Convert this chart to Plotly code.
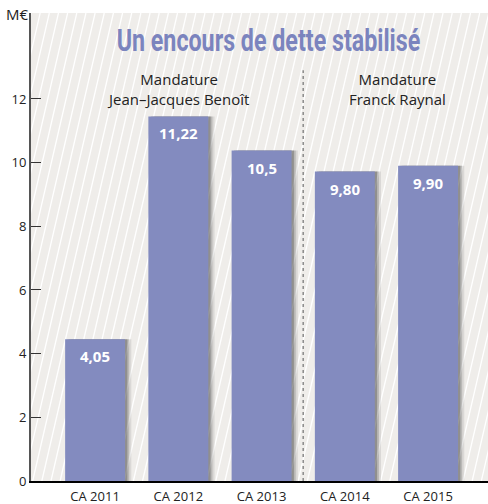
import plotly.graph_objects as go

# Dette (M€) par compte administratif
categories = ["CA 2011", "CA 2012", "CA 2013", "CA 2014", "CA 2015"]
bar_heights = [4.45, 11.45, 10.38, 9.72, 9.9]   # hauteur des barres
value_labels = ["4,05", "11,22", "10,5", "9,80", "9,90"]
mandates = ["Mandature<br>Jean–Jacques Benoît", "Mandature<br>Franck Raynal"]
y_ticks = [0, 2, 4, 6, 8, 10, 12]

BAR = "#838bbf"
TXT = "#222222"
idx = list(range(len(categories)))

fig = go.Figure()

# ombres portées des barres
for off, alpha in [(0.075, 0.10), (0.05, 0.18), (0.028, 0.28)]:
    fig.add_trace(go.Bar(x=idx, y=bar_heights, width=0.72, offset=-0.36 + off,
                         marker=dict(color=f"rgba(40,40,40,{alpha})", line_width=0),
                         hoverinfo="skip", showlegend=False))

fig.add_trace(go.Bar(x=idx, y=bar_heights, width=0.72, offset=-0.36,
                     marker=dict(color=BAR, line_width=0), showlegend=False))

# étiquettes de valeur dans les barres
for i, lab in enumerate(value_labels):
    fig.add_annotation(x=idx[i], y=bar_heights[i], text=f"<b>{lab}</b>", showarrow=False,
                       yshift=-17, font=dict(family="Open Sans", size=15, color="white"))

# fond hachuré
shapes = []
x_lo, x_hi = -0.77, 4.72
y_top = 14.7
dx = 1.30
step = 0.11
x0 = x_lo - dx
while x0 < x_hi:
    shapes.append(dict(type="line", xref="x", yref="y", x0=x0, y0=0, x1=x0 + dx, y1=y_top,
                       line=dict(color="white", width=1.3), layer="below"))
    x0 += step

# séparation entre les deux mandatures
split = 2.5
shapes.append(dict(type="line", xref="x", yref="y", x0=split, x1=split, y0=0, y1=12.9,
                   line=dict(color="#8a8a8a", width=1.5, dash="3px,3px"), layer="above"))

fig.add_annotation(x=1, y=12.3, text=mandates[0], showarrow=False,
                   font=dict(family="Open Sans", size=15, color=TXT))
fig.add_annotation(x=3.63, y=12.3, text=mandates[1], showarrow=False,
                   font=dict(family="Open Sans", size=15, color=TXT))

fig.add_annotation(x=0.519, y=0.942, xref="paper", yref="paper", xanchor="center", yanchor="middle",
                   text="<b>Un encours de dette stabilisé</b>", showarrow=False,
                   font=dict(family="Roboto", size=31, color="#7b84be"))
fig.add_annotation(x=-0.031, y=0.998, xref="paper", yref="paper", xanchor="center", yanchor="middle",
                   text="M€", showarrow=False,
                   font=dict(family="Open Sans", size=15, color=TXT))

fig.update_layout(
    width=488, height=504,
    margin=dict(l=31, r=0, t=13, b=23),
    barmode="overlay",
    paper_bgcolor="white",
    plot_bgcolor="#efedea",
    shapes=shapes,
    font=dict(family="Open Sans", color=TXT),
)
fig.update_xaxes(range=[x_lo, x_hi], tickmode="array", tickvals=idx, ticktext=categories,
                 showgrid=False, zeroline=False, showline=True, linecolor="black", linewidth=1.5,
                 tickfont=dict(size=13, color=TXT), ticks="", ticklabelstandoff=3)
fig.update_yaxes(range=[0, y_top], tickvals=y_ticks, showgrid=False, zeroline=False,
                 showline=True, linecolor="#555555", linewidth=2, ticks="inside", ticklen=10,
                 tickcolor="#333333", tickfont=dict(size=13, color=TXT))

# page sans marge + titre condensé (police étroite absente)
post = """
document.body.style.margin = '0';
document.querySelectorAll('.annotation-text').forEach(function (t) {
  if (t.textContent.indexOf('encours') >= 0) {
    t.style.transformBox = 'fill-box';
    t.style.transformOrigin = 'center';
    t.style.transform = 'scaleX(0.75)';
  }
});
"""
fig.write_html("out.html", post_script=post, config={"displayModeBar": False})
